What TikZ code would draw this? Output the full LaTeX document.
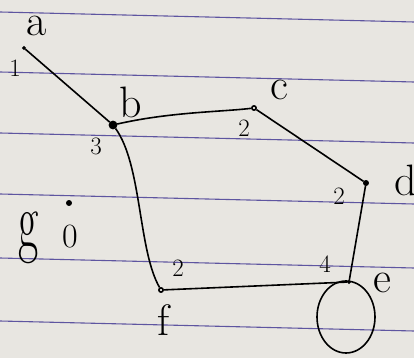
\documentclass[tikz,border=0pt]{standalone}
\usepackage{fontspec}
\usetikzlibrary{positioning}
\definecolor{paper}{HTML}{E8E6E1}
\definecolor{ruling}{HTML}{5E55A0}
\tikzstyle{vertex} = [circle, draw, fill, inner sep=1.5pt]
\tikzstyle{hollow} = [circle, draw, fill=paper, inner sep=1.5pt]
\tikzstyle{vlabel} = [font=\fontsize{44}{44}\selectfont]
\tikzstyle{wlabel} = [font=\fontsize{25}{25}\selectfont]

\begin{document}
\begin{tikzpicture}[x=1pt, y=-1pt, line width=1.6pt]

\fill [paper] (0,0) rectangle (414,358);
\useasboundingbox (0,0) rectangle (414,358);
\foreach \y in {12,72,133,194,258,321}
  \draw [ruling, line width=1.1pt] (0,\y) -- (414,\y+10);

\node [vertex, inner sep=0pt, minimum size=2pt] (a) at (24,48) {};
\node [vertex, inner sep=2.5pt] (b) at (113,125) {};
\node [hollow] (c) at (254,108) {};
\node [vertex] (d) at (366,183) {};
\node [vertex, inner sep=0pt, minimum size=2pt] (e) at (349,282) {};
\node [hollow] (f) at (161,290) {};
\node [vertex] (g) at (69,203) {};

\node [vlabel] (la) at (37,26) {a};
\node [vlabel] (lb) at (131,102) {b};
\node [vlabel] (lc) at (279,90) {c};
\node [vlabel] (ld) at (406,180) {d};
\node [vlabel] (le) at (382,283) {e};
\node [vlabel] (lf) at (164,320) {f};
\node [vlabel, font=\fontsize{80}{80}\selectfont, xscale=0.55] (lg) at (29,238) {g};

\node [wlabel] (w1) at (15,68) {1};
\node [wlabel] (w3) at (96,146) {3};
\node [wlabel] (w2c) at (244,128) {2};
\node [wlabel] (w2d) at (339,196) {2};
\node [wlabel] (w4) at (325,264) {4};
\node [wlabel] (w2f) at (178,268) {2};
\node [wlabel, font=\fontsize{34}{34}\selectfont] (w0) at (70,237) {0};

\draw (a) -- (b);
\draw (b) .. controls (170,112) and (220,112) .. (c);
\draw (c) -- (d);
\draw (d) -- (e);
\draw (f) -- (e);
\draw (b) .. controls (142,165) and (138,250) .. (f);
\draw (e) ++(-3,35) circle [x radius=29, y radius=36];

\end{tikzpicture}
\end{document}
